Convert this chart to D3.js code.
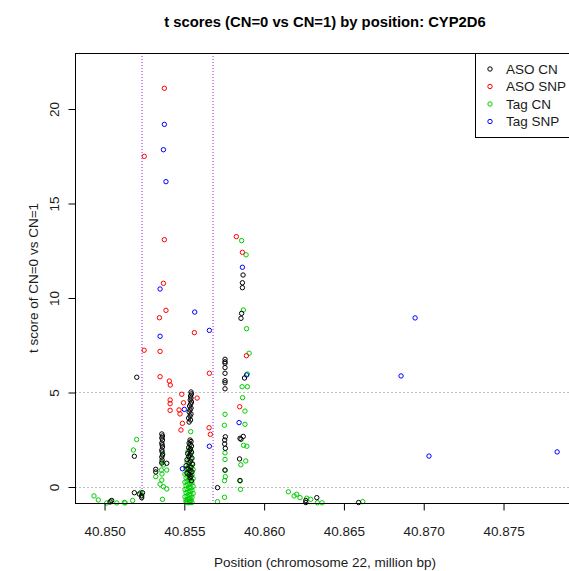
<!DOCTYPE html>
<html>
<head>
<meta charset="utf-8">
<script src="https://cdn.jsdelivr.net/npm/d3@7"></script>
<style>
  html, body { margin: 0; padding: 0; background: #fff; }
  svg { display: block; font-family: "Liberation Sans", Arial, Helvetica, sans-serif; }
</style>
</head>
<body>
<svg id="chart" width="569" height="571"></svg>
<script>
// t scores (CN=0 vs CN=1) per probe, by chromosome 22 position (million bp)
const asoCnPos = [40.85205, 40.85190, 40.85190, 40.85221, 40.85236, 40.85241, 40.85236, 40.85048, 40.85038,
  40.85362, 40.85366, 40.85362, 40.85366, 40.85362, 40.85364, 40.85366, 40.85362, 40.85364, 40.85366, 40.85362, 40.85364, 40.85362, 40.85393, 40.85324, 40.85324,
  40.85545, 40.85548, 40.85542, 40.85545, 40.85540, 40.85548, 40.85543, 40.85536, 40.85545, 40.85539, 40.85533, 40.85545, 40.85539, 40.85530, 40.85542, 40.85533,
  40.85539, 40.85545, 40.85533, 40.85539, 40.85548, 40.85530, 40.85542, 40.85536, 40.85548, 40.85524, 40.85539, 40.85530, 40.85551, 40.85520, 40.85542, 40.85533, 40.85555, 40.85514, 40.85545, 40.85526, 40.85539, 40.85551, 40.85520, 40.85533, 40.85545, 40.85539, 40.85548,
  40.85758, 40.85758, 40.85758, 40.85758, 40.85758, 40.85758, 40.85758, 40.85758, 40.85760, 40.85756, 40.85756, 40.85760, 40.85758, 40.85711,
  40.85871, 40.85867, 40.85867, 40.85862, 40.85858, 40.85880, 40.85872, 40.85852, 40.85858, 40.85849, 40.85852,
  40.86264, 40.86264, 40.86333, 40.86595];
const asoCnT = [5.78, 1.60, -0.33, -0.40, -0.50, -0.33, -0.59, -0.74, -0.82,
  2.78, 2.67, 2.57, 2.46, 2.30, 2.20, 2.09, 1.93, 1.83, 1.67, 1.56, 1.40, 1.24, 1.23, 0.91, 0.77,
  5.00, 4.90, 4.79, 4.68, 4.58, 4.47, 4.37, 4.26, 4.15, 4.05, 3.94, 3.84, 3.73, 3.62, 3.52, 3.41,
  2.46, 2.38, 2.30, 2.22, 2.14, 2.06, 1.98, 1.90, 1.82, 1.74, 1.66, 1.58, 1.50, 1.42, 1.34, 1.26, 1.18, 1.10, 1.02, 0.94, 0.86, 0.78, 0.70, 0.62, 0.54, 0.46, 0.30,
  6.73, 6.60, 6.52, 6.29, 5.99, 5.60, 5.49, 5.17, 2.63, 2.46, 2.25, 2.02, 0.87, -0.06,
  11.19, 10.78, 10.52, 9.16, 8.90, 5.74, 2.65, 2.55, 2.50, 1.46, 0.32,
  -0.74, -0.85, -0.59, -0.85];

const asoSnpPos = [40.85378, 40.85252, 40.85378, 40.85829, 40.85867, 40.85372, 40.85388, 40.85347, 40.85566, 40.85251,
  40.85351, 40.85892, 40.85660, 40.85351, 40.85409, 40.85415, 40.85487, 40.85583, 40.85414, 40.85498,
  40.85414, 40.85850, 40.85414, 40.85470, 40.85476, 40.85491, 40.85658, 40.85482, 40.85666];
const asoSnpT = [21.07, 17.47, 13.06, 13.22, 12.39, 10.75, 9.32, 8.93, 8.14, 7.21,
  7.15, 6.92, 5.99, 5.81, 5.58, 5.37, 4.88, 4.68, 4.58, 4.43,
  4.38, 4.22, 4.03, 4.05, 3.84, 3.34, 3.11, 2.99, 2.76];

const tagCnPos = [40.84937, 40.84964, 40.85017, 40.85042, 40.85080, 40.85132, 40.85179, 40.85184, 40.85204, 40.85235, 40.85230, 40.85127,
  40.85368, 40.85362, 40.85372, 40.85359, 40.85393, 40.85363, 40.85324, 40.85362, 40.85351, 40.85372, 40.85393, 40.85366,
  40.85543, 40.85539, 40.85526, 40.85545,
  40.85533, 40.85545, 40.85520, 40.85551, 40.85539, 40.85526, 40.85514, 40.85558, 40.85533, 40.85545, 40.85520, 40.85507, 40.85551, 40.85539, 40.85526, 40.85514, 40.85558, 40.85533, 40.85545, 40.85520, 40.85507, 40.85551, 40.85539, 40.85526, 40.85514, 40.85558, 40.85533, 40.85545, 40.85520, 40.85507, 40.85551, 40.85539, 40.85526, 40.85514, 40.85558, 40.85533, 40.85545, 40.85520, 40.85507, 40.85551, 40.85539, 40.85526, 40.85514, 40.85545, 40.85533, 40.85520, 40.85539, 40.85526, 40.85551, 40.85514,
  40.85758, 40.85754, 40.85758, 40.85758, 40.85758, 40.85760, 40.85755, 40.85755, 40.85711,
  40.85862, 40.85890, 40.85873, 40.85893, 40.85909, 40.85898, 40.85865, 40.85898, 40.85868, 40.85883, 40.85883, 40.85874, 40.85895, 40.85888, 40.85857, 40.85852, 40.85855,
  40.86155, 40.86191, 40.86207, 40.86228, 40.86270, 40.86295, 40.86337, 40.86366, 40.86621];
const tagCnT = [-0.50, -0.71, -0.87, -0.77, -0.87, -0.87, -0.74, 1.93, 2.49, -0.45, -0.31, -0.84,
  1.70, 1.31, 1.14, 0.87, 0.87, 0.66, 0.52, 0.34, 0.12, -0.01, -0.13, -0.68,
  2.90, 2.00, 1.85, 1.74,
  1.62, 1.45, 1.30, 1.21, 1.10, 1.02, 0.95, 0.90, 0.84, 0.78, 0.72, 0.66, 0.62, 0.56, 0.51, 0.46, 0.42, 0.37, 0.32, 0.28, 0.23, 0.19, 0.14, 0.10, 0.05, 0.01, -0.03, -0.08, -0.12, -0.16, -0.20, -0.25, -0.29, -0.33, -0.37, -0.42, -0.46, -0.50, -0.54, -0.58, -0.62, -0.66, -0.70, -0.74, -0.78, -0.82, -0.85, -0.86, -0.84, -0.80,
  3.82, 3.24, 1.78, 1.43, 0.86, 0.52, 0.31, -0.57, -0.80,
  13.01, 12.26, 9.34, 8.35, 7.05, 5.95, 5.28, 5.28, 4.70, 3.99, 3.29, 2.18, 2.13, 1.35, 1.15, 0.29, -0.15,
  -0.28, -0.50, -0.41, -0.59, -0.62, -0.68, -0.86, -0.86, -0.80];

const tagSnpPos = [40.85378, 40.85372, 40.85388, 40.85351, 40.85568, 40.85660, 40.85351, 40.85503, 40.85660, 40.85491,
  40.85867, 40.85893, 40.85846, 40.86861, 40.86949, 40.87036, 40.87839];
const tagSnpT = [19.16, 17.82, 16.13, 10.45, 9.23, 8.26, 7.95, 4.08, 2.13, 0.94,
  11.60, 5.90, 3.38, 5.85, 8.92, 1.61, 1.83];

// gene boundaries (purple) and reference levels (grey)
const geneBounds = [40.85238, 40.85683];
const refLevels = [0, 5];

const xTicks = [40.850, 40.855, 40.860, 40.865, 40.870, 40.875];
const yTicks = [0, 5, 10, 15, 20];

const seriesNames = ["ASO CN", "ASO SNP", "Tag CN", "Tag SNP"];
const seriesColors = ["#000000", "#FF0000", "#00CD00", "#0000FF"];

const series = [
  { name: seriesNames[0], color: seriesColors[0], pos: asoCnPos, t: asoCnT },
  { name: seriesNames[1], color: seriesColors[1], pos: asoSnpPos, t: asoSnpT },
  { name: seriesNames[2], color: seriesColors[2], pos: tagCnPos, t: tagCnT },
  { name: seriesNames[3], color: seriesColors[3], pos: tagSnpPos, t: tagSnpT }
];
// drawing order: Tag CN underneath, then Tag SNP, ASO CN, ASO SNP
const drawOrder = [2, 3, 0, 1];

const svg = d3.select("#chart");
const plot = { left: 75, right: 575, top: 53, bottom: 503 };

const x = d3.scaleLinear().domain([40.84818, 40.87951]).range([plot.left, plot.right]);
const y = d3.scaleLinear().domain([-0.873, 22.937]).range([plot.bottom, plot.top]);

const textColor = "#1a1a1a";

// reference lines
svg.append("g").selectAll("line").data(refLevels).join("line")
  .attr("x1", plot.left).attr("x2", plot.right)
  .attr("y1", d => Math.round(y(d)) + 0.5).attr("y2", d => Math.round(y(d)) + 0.5)
  .attr("stroke", "#BEBEBE").attr("stroke-width", 1).attr("stroke-dasharray", "2,2");

svg.append("g").selectAll("line").data(geneBounds).join("line")
  .attr("x1", d => x(d)).attr("x2", d => x(d))
  .attr("y1", plot.top).attr("y2", plot.bottom)
  .attr("stroke", "#A020F0").attr("stroke-width", 1).attr("stroke-dasharray", "1,2");

// points
const pts = svg.append("g");
drawOrder.forEach(i => {
  const s = series[i];
  pts.append("g").selectAll("circle").data(d3.range(s.pos.length)).join("circle")
    .attr("cx", k => x(s.pos[k]))
    .attr("cy", k => y(s.t[k]))
    .attr("r", 2.2)
    .attr("fill", "none")
    .attr("stroke", s.color)
    .attr("stroke-width", 1);
});

// frame
svg.append("rect")
  .attr("x", plot.left + 0.5).attr("y", plot.top + 0.5)
  .attr("width", plot.right - plot.left).attr("height", plot.bottom - plot.top)
  .attr("fill", "none").attr("stroke", "#000").attr("stroke-width", 1);

// x axis
const xAxis = d3.axisBottom(x).tickValues(xTicks).tickFormat(d3.format(".3f")).tickSize(7).tickPadding(16);
const gx = svg.append("g").attr("transform", `translate(0.5,${plot.bottom + 0.5})`).call(xAxis);
gx.select(".domain").remove();
gx.selectAll("line").attr("stroke", "#000");
gx.selectAll("text").attr("fill", textColor).attr("font-size", 13.5)
  .attr("font-family", "Liberation Sans, Arial, sans-serif");

// y axis with labels parallel to the axis
const yAxis = d3.axisLeft(y).tickValues(yTicks).tickFormat(d3.format("d")).tickSize(7);
const gy = svg.append("g").attr("transform", `translate(${plot.left + 0.5},0.5)`).call(yAxis);
gy.select(".domain").remove();
gy.selectAll("line").attr("stroke", "#000");
gy.selectAll("text")
  .attr("fill", textColor).attr("font-size", 13.5)
  .attr("font-family", "Liberation Sans, Arial, sans-serif")
  .attr("x", null).attr("dy", null)
  .attr("text-anchor", "middle")
  .attr("transform", "translate(-17,0) rotate(-90)");

// titles
svg.append("text")
  .attr("x", (plot.left + plot.right) / 2).attr("y", 27)
  .attr("text-anchor", "middle").attr("font-weight", "bold").attr("font-size", 14.8)
  .attr("fill", "#000")
  .text("t scores (CN=0 vs CN=1) by position: CYP2D6");

svg.append("text")
  .attr("x", (plot.left + plot.right) / 2).attr("y", 567)
  .attr("text-anchor", "middle").attr("font-size", 13.5).attr("fill", textColor)
  .text("Position (chromosome 22, million bp)");

svg.append("text")
  .attr("transform", `translate(38,${(plot.top + plot.bottom) / 2}) rotate(-90)`)
  .attr("text-anchor", "middle").attr("font-size", 13.5).attr("fill", textColor)
  .text("t score of CN=0 vs CN=1");

// legend
const leg = svg.append("g");
leg.append("rect")
  .attr("x", 475.5).attr("y", plot.top + 0.5).attr("width", plot.right - 475).attr("height", 84)
  .attr("fill", "#fff").attr("stroke", "#000").attr("stroke-width", 1);
const rows = leg.selectAll("g.row").data(series).join("g").attr("class", "row")
  .attr("transform", (d, i) => `translate(0,${69 + i * 17.5})`);
rows.append("circle").attr("cx", 490).attr("cy", 0).attr("r", 2.2)
  .attr("fill", "none").attr("stroke", d => d.color).attr("stroke-width", 1);
rows.append("text").attr("x", 506).attr("y", 0).attr("dy", "0.35em")
  .attr("font-size", 13.5).attr("fill", textColor).text(d => d.name);
</script>
</body>
</html>
